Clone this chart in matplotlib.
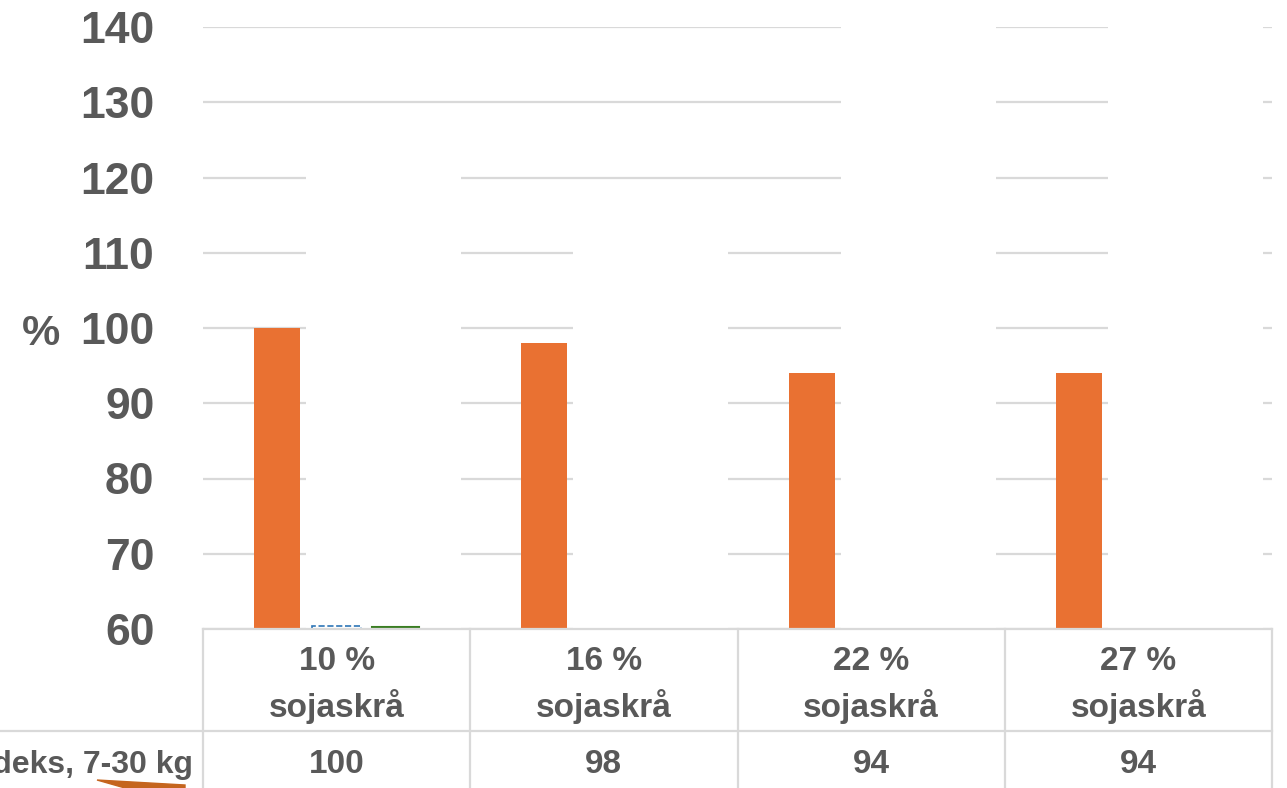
import numpy as np
import matplotlib.pyplot as plt
from matplotlib.patches import Polygon

plt.rcParams['font.family'] = ['Liberation Sans', 'DejaVu Sans']
plt.rcParams['font.weight'] = 'bold'

# data
categories = ['10 %\nsojaskrå', '16 %\nsojaskrå', '22 %\nsojaskrå', '27 %\nsojaskrå']
indeks = [100, 98, 94, 94]
row_label = 'Indeks, 7-30 kg'
# hidden (white) series that cut the gridlines
hidden = [125, 115, 145, 145]
# tiny series sitting on the axis in the first group
blue_small = [60.4, np.nan, np.nan, np.nan]
green_small = [60.3, np.nan, np.nan, np.nan]
yticks = [60, 70, 80, 90, 100, 110, 120, 130, 140]

W, H = 1287, 788
txt = '#595959'
grid = '#D9D9D9'

fig = plt.figure(figsize=(W / 100, H / 100), dpi=100)
ax = fig.add_axes([203 / W, 159 / H, 1069 / W, 602 / H])

x = np.arange(len(categories))
base = yticks[0]

ax.bar(x - 0.223, np.array(indeks) - base, bottom=base, width=0.172,
       color='#E97132', zorder=3)
ax.bar(x + 0.176, np.array(hidden) - base, bottom=base, width=0.58,
       color='white', zorder=2)
ax.bar(x, np.array(blue_small) - base, bottom=base, width=0.184,
       facecolor='none', edgecolor='#2E75B6', linestyle='--', lw=1.2, zorder=4)
ax.bar(x + 0.22, np.array(green_small) - base, bottom=base, width=0.176,
       facecolor='none', edgecolor='#3A7D22', lw=1.5, zorder=4)

ax.set_xlim(-0.5, len(categories) - 0.5)
ax.set_ylim(yticks[0], yticks[-1])
ax.set_yticks(yticks)
ax.yaxis.grid(True, color=grid, lw=1.6, zorder=0)
ax.set_xticks([])
ax.tick_params(axis='y', length=0, pad=35, labelsize=32, labelcolor=txt)
for s in ax.spines.values():
    s.set_visible(False)

fig.text(41 / W, 1 - 345 / H, '%', ha='center', va='baseline',
         fontsize=31, color=txt)

# data table under the plot
tr = ax.get_xaxis_transform()
row1 = -102 / 602
bottom = -170 / 602
edges = np.arange(len(categories) + 1) - 0.5
for e in edges:
    ax.plot([e, e], [0, bottom], color=grid, lw=1.6, clip_on=False,
            transform=tr, zorder=5)
ax.plot([-0.5, len(categories) - 0.5], [0, 0], color=grid, lw=1.6,
        clip_on=False, transform=tr, zorder=5)
ax.plot([-203 / 1069, 1], [row1, row1], color=grid, lw=1.6,
        clip_on=False, transform=ax.transAxes, zorder=5)

for i, c in enumerate(categories):
    l1, l2 = c.split('\n')
    ax.text(i, -41 / 602, l1, transform=tr, ha='center', va='baseline',
            fontsize=24, color=txt)
    ax.text(i, -88 / 602, l2, transform=tr, ha='center', va='baseline',
            fontsize=24, color=txt)
    ax.text(i, -144 / 602, str(indeks[i]), transform=tr, ha='center',
            va='baseline', fontsize=24, color=txt)

ax.text(-10 / 1069, -144 / 602, row_label, transform=ax.transAxes,
        ha='right', va='baseline', fontsize=23, color=txt)

# clipped legend key at the bottom edge
pts = [(97, 780), (185, 785), (185, 788), (125, 788)]
fig.patches.append(Polygon([(px / W, 1 - py / H) for px, py in pts],
                           closed=True, color='#C5651E',
                           transform=fig.transFigure, figure=fig))

fig.savefig('out.png', dpi=100)
